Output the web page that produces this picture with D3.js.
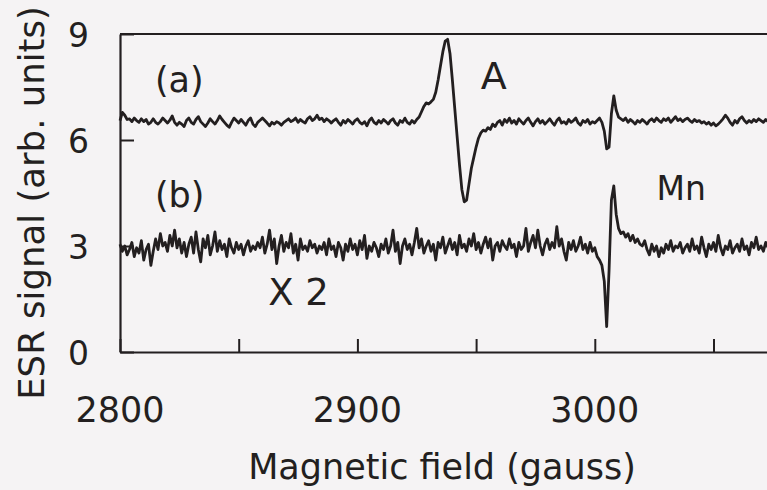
<!DOCTYPE html>
<html>
<head>
<meta charset="utf-8">
<script src="https://cdn.jsdelivr.net/npm/d3@7"></script>
<style>
  html, body { margin: 0; padding: 0; background: #f5f3f4; }
  svg { display: block; }
  text { font-family: "DejaVu Sans", "Liberation Sans", sans-serif; fill: #231f20; }
</style>
</head>
<body>
<svg id="chart" width="767" height="490"></svg>
<script>
// ESR spectra (a) and (b) vs magnetic field, one sample per gauss from FIELD_START
const FIELD_START = 2800;
const FIELD_STEP = 1;

// trace (a) — signal A near 2938 G, weak Mn line near 3006 G
const signalA = [
  6.55, 6.78, 6.7, 6.58, 6.6, 6.52, 6.62, 6.55, 6.5, 6.6,
  6.52, 6.58, 6.45, 6.5, 6.6, 6.5, 6.45, 6.52, 6.62, 6.55,
  6.48, 6.56, 6.68, 6.5, 6.42, 6.5, 6.45, 6.38, 6.55, 6.62,
  6.5, 6.45, 6.58, 6.66, 6.52, 6.45, 6.38, 6.48, 6.6, 6.52,
  6.45, 6.55, 6.68, 6.58, 6.5, 6.42, 6.36, 6.5, 6.62, 6.55,
  6.48, 6.58, 6.5, 6.42, 6.55, 6.62, 6.45, 6.38, 6.5, 6.56,
  6.62, 6.55, 6.48, 6.4, 6.5, 6.45, 6.52, 6.48, 6.42, 6.5,
  6.55, 6.6, 6.52, 6.56, 6.62, 6.5, 6.58, 6.52, 6.48, 6.6,
  6.66, 6.55, 6.6, 6.7, 6.58, 6.62, 6.52, 6.6, 6.55, 6.48,
  6.55, 6.6, 6.5, 6.42, 6.55, 6.48, 6.58, 6.52, 6.45, 6.55,
  6.6, 6.5, 6.45, 6.52, 6.4, 6.55, 6.62, 6.5, 6.45, 6.55,
  6.48, 6.58, 6.52, 6.45, 6.55, 6.6, 6.48, 6.42, 6.55, 6.5,
  6.62, 6.5, 6.45, 6.55, 6.48, 6.58, 6.65, 6.8, 6.95, 7.05,
  7.02, 7.08, 7.15, 7.35, 7.7, 8.1, 8.5, 8.8, 8.85, 8.45,
  7.7, 6.9, 6.1, 5.3, 4.6, 4.25, 4.3, 4.75, 5.2, 5.5,
  5.8, 6.05, 6.2, 6.28, 6.25, 6.35, 6.3, 6.45, 6.38, 6.5,
  6.55, 6.42, 6.58, 6.5, 6.62, 6.48, 6.55, 6.45, 6.6, 6.52,
  6.45, 6.55, 6.62, 6.5, 6.4, 6.52, 6.6, 6.48, 6.55, 6.45,
  6.52, 6.6, 6.5, 6.42, 6.55, 6.62, 6.48, 6.52, 6.45, 6.58,
  6.5, 6.55, 6.62, 6.48, 6.42, 6.55, 6.5, 6.58, 6.45, 6.52,
  6.48, 6.55, 6.62, 6.5, 6.25, 5.75, 5.8, 6.75, 7.25, 6.85,
  6.65, 6.6, 6.55, 6.62, 6.5, 6.58, 6.52, 6.45, 6.55, 6.5,
  6.58, 6.52, 6.45, 6.55, 6.6, 6.52, 6.62, 6.55, 6.5, 6.6,
  6.55, 6.62, 6.5, 6.58, 6.66, 6.55, 6.6, 6.52, 6.58, 6.62,
  6.55, 6.5, 6.58, 6.52, 6.55, 6.48, 6.52, 6.45, 6.5, 6.42,
  6.48, 6.4, 6.45, 6.52, 6.6, 6.7, 6.62, 6.5, 6.42, 6.55,
  6.48, 6.6, 6.66, 6.55, 6.48, 6.55, 6.5, 6.58, 6.52, 6.6,
  6.55, 6.5, 6.58, 6.52
];

// trace (b) — x2, noisy, strong Mn line
const signalB = [
  3.05, 2.85, 3.0, 2.75, 2.9, 3.1, 2.7, 2.95, 2.8, 3.15,
  2.6, 2.9, 3.05, 2.45, 2.85, 3.2, 2.9, 3.35, 3.0, 3.1,
  2.85, 3.3, 3.0, 3.45, 2.95, 3.2, 2.8, 3.1, 2.7, 3.05,
  3.25, 2.8, 3.4, 2.9, 2.55, 3.2, 2.95, 3.3, 2.75, 3.0,
  3.4, 2.85, 3.15, 2.9, 3.05, 2.7, 3.2, 2.95, 2.8, 3.1,
  2.9, 3.05, 2.75, 3.0, 3.15, 2.85, 3.0, 2.9, 3.1, 2.95,
  3.25, 2.8, 3.05, 3.45, 2.9, 3.2, 2.5, 3.0, 3.3, 2.85,
  3.1, 2.95, 3.35, 2.8, 3.05, 2.6, 3.2, 2.9, 3.0, 2.85,
  3.15, 2.95, 3.05, 2.8, 3.0, 2.9, 3.1, 2.75, 3.2, 2.9,
  3.0, 2.7, 3.1, 2.95, 2.6, 3.05, 2.85, 3.2, 2.9, 3.05,
  2.75, 3.15, 2.9, 3.3, 2.65, 3.0, 2.85, 3.1, 2.95, 2.7,
  3.05, 2.9, 3.2, 2.8, 3.0, 3.45, 2.85, 3.1, 2.5, 3.0,
  3.2, 2.9, 3.05, 2.75, 3.1, 3.5, 2.95, 3.2, 2.8, 3.0,
  3.15, 2.85, 3.05, 2.6, 3.1, 2.95, 3.25, 2.8, 3.0, 3.2,
  2.9, 3.1, 2.75, 3.3, 2.95, 3.05, 2.85, 3.2, 3.0, 3.35,
  2.9, 3.1, 2.8, 3.05, 3.25, 2.95, 3.2, 2.6, 3.0, 3.1,
  2.85, 3.15, 3.0, 2.9, 3.2, 2.95, 3.05, 2.7, 3.1, 2.9,
  3.0, 3.5, 2.85, 3.1, 3.3, 2.95, 3.45, 3.0, 2.75, 3.05,
  3.2, 2.9, 3.1, 2.95, 3.55, 3.0, 3.2, 2.85, 2.6, 3.1,
  2.9, 3.15, 2.85, 3.0, 3.25, 2.9, 3.05, 2.8, 3.1, 2.85,
  2.95, 2.7, 2.6, 2.45, 2.0, 0.72, 2.3, 4.3, 4.7, 3.9,
  3.5, 3.35, 3.4, 3.25, 3.35, 3.15, 3.3, 3.1, 3.2, 3.05,
  3.0, 3.15, 2.9, 2.75, 3.05, 2.85, 3.0, 2.7, 2.95, 2.8,
  3.05, 2.9, 3.15, 2.85, 3.0, 2.95, 3.1, 2.8, 2.95, 3.05,
  2.85, 3.2, 2.9, 3.0, 2.8, 3.25, 2.95, 2.7, 3.05, 2.9,
  3.1, 2.85, 3.3, 2.95, 2.75, 3.0, 2.9, 3.15, 2.8, 2.95,
  3.05, 2.85, 3.2, 2.9, 3.0, 2.75, 3.1, 2.95, 3.25, 2.9,
  3.0, 2.85, 3.1, 2.95
];

const xTicks = [2800, 2850, 2900, 2950, 3000, 3050];
const xTickLabels = [2800, 2900, 3000];
const yTicks = [0, 3, 6, 9];

const annotations = [
  { text: '(a)', field: 2814.7, value: 7.37, size: 35 },
  { text: '(b)', field: 2814.7, value: 4.1, size: 35 },
  { text: 'A', field: 2952.0, value: 7.45, size: 38 },
  { text: 'Mn', field: 3026.0, value: 4.30, size: 33 },
  { text: 'X 2', field: 2862.4, value: 1.33, size: 37 }
];

const svg = d3.select('#chart');
const X0 = 120, X50 = 118.7;  // pixel of 2800 G and width of 50 G
const x = d3.scaleLinear().domain([2800, 3100]).range([X0, X0 + 6 * X50]);
const y = d3.scaleLinear().domain([0, 9]).range([352, 34]);
const INK = '#231f20';

// frame: left, top (right side runs off the picture)
svg.append('line').attr('x1', x(2800)).attr('x2', x(3100)).attr('y1', y(9)).attr('y2', y(9))
  .attr('stroke', INK).attr('stroke-width', 2);

const xAxis = svg.append('g').attr('transform', `translate(0,${y(0)})`)
  .call(d3.axisBottom(x).tickValues(xTicks).tickSizeInner(-13).tickSizeOuter(0).tickFormat(''));
const yAxis = svg.append('g').attr('transform', `translate(${x(2800)},0)`)
  .call(d3.axisLeft(y).tickValues(yTicks).tickSizeInner(-14).tickSizeOuter(0).tickFormat(''));
[xAxis, yAxis].forEach(g => {
  g.select('.domain').attr('stroke', INK).attr('stroke-width', 2.2);
  g.selectAll('.tick line').attr('stroke', INK).attr('stroke-width', 2);
});

svg.selectAll('text.xlab').data(xTickLabels).enter().append('text')
  .attr('class', 'xlab').attr('x', d => x(d)).attr('y', 422)
  .attr('text-anchor', 'middle').style('font-size', '35px').text(d => d);

svg.selectAll('text.ylab').data(yTicks).enter().append('text')
  .attr('class', 'ylab').attr('x', 89).attr('y', d => y(d) + 13)
  .attr('text-anchor', 'end').style('font-size', '33px').text(d => d);

svg.append('text').attr('x', 442).attr('y', 479).attr('text-anchor', 'middle')
  .style('font-size', '35px').text('Magnetic field (gauss)');

svg.append('text').attr('transform', 'translate(44,203) rotate(-90)').attr('text-anchor', 'middle')
  .style('font-size', '35.5px').text('ESR signal (arb. units)');

// traces
const line = d3.line()
  .x((d, i) => x(FIELD_START + i * FIELD_STEP))
  .y(d => y(d));

[signalA, signalB].forEach(s => {
  svg.append('path').datum(s).attr('d', line)
    .attr('fill', 'none').attr('stroke', INK).attr('stroke-width', 2.8)
    .attr('stroke-linejoin', 'round');
});

svg.selectAll('text.note').data(annotations).enter().append('text')
  .attr('class', 'note').attr('x', d => x(d.field)).attr('y', d => y(d.value))
  .style('font-size', d => d.size + 'px')
  .text(d => d.text);
</script>
</body>
</html>
